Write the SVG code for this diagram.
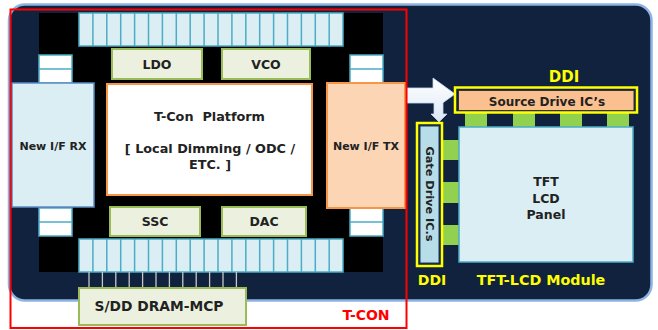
<svg xmlns="http://www.w3.org/2000/svg" width="658" height="330" viewBox="0 0 658 330">
<defs>
<style>
.t{font-family:"DejaVu Sans","Noto Sans","Liberation Sans",sans-serif;font-weight:bold;text-anchor:middle;fill:#222;}
.cell{fill:#dbeef4;stroke:#4bacc6;stroke-width:1.5;}
.grn{fill:#ebf1de;stroke:#9bbb59;stroke-width:2;}
.conn{fill:#92d050;}
.ddi{fill:none;stroke:#ffff00;stroke-width:2.5;}
.ylw{font-family:"DejaVu Sans","Noto Sans","Liberation Sans",sans-serif;font-weight:bold;text-anchor:middle;fill:#ffff00;}
.pin{stroke:#c8c8c8;stroke-width:1.3;}
</style>
<linearGradient id="arrowGrad" x1="0" y1="0" x2="0" y2="1">
<stop offset="0" stop-color="#ffffff"/>
<stop offset="1" stop-color="#dce8f6"/>
</linearGradient>
</defs>
<rect width="658" height="330" fill="#ffffff"/>
<g id="module-bg">
<rect x="9" y="4.5" width="642.5" height="296" rx="16" fill="#10223d" stroke="#8db3e2" stroke-width="2.5"/>
</g>
<g id="tcon-core">
<rect x="39" y="13" width="344" height="259" fill="#000000"/>
</g>
<g id="top-strip">
<rect class="cell" x="79" y="13" width="264" height="33"/>
<path class="cell" d="M92.9 13V46M106.8 13V46M120.7 13V46M134.6 13V46M148.5 13V46M162.4 13V46M176.3 13V46M190.2 13V46M204.1 13V46M218 13V46M231.9 13V46M245.8 13V46M259.7 13V46M273.6 13V46M287.5 13V46M301.4 13V46M315.3 13V46M329.2 13V46"/>
</g>
<g id="bottom-strip">
<rect class="cell" x="79" y="239" width="264" height="33"/>
<path class="cell" d="M92.9 239V272M106.8 239V272M120.7 239V272M134.6 239V272M148.5 239V272M162.4 239V272M176.3 239V272M190.2 239V272M204.1 239V272M218 239V272M231.9 239V272M245.8 239V272M259.7 239V272M273.6 239V272M287.5 239V272M301.4 239V272M315.3 239V272M329.2 239V272"/>
</g>
<g id="connectors">
<path class="pin" d="M89 272V288M102.4 272V288M115.8 272V288M129.2 272V288M142.6 272V288M156 272V288M169.4 272V288M182.8 272V288M196.2 272V288M209.6 272V288M223 272V288M236.4 272V288"/>
<path d="M407 88H433V78L455 94L443 102.7V114H447L439 122L431 114H434V103H407Z" fill="url(#arrowGrad)" stroke="#c6d9f0" stroke-width="0.8"/>
<rect class="conn" x="465" y="113" width="22" height="14"/>
<rect class="conn" x="513" y="113" width="22" height="14"/>
<rect class="conn" x="560" y="113" width="22" height="14"/>
<rect class="conn" x="607" y="113" width="22" height="14"/>
<rect class="conn" x="443" y="140" width="16" height="20"/>
<rect class="conn" x="443" y="182" width="16" height="21"/>
<rect class="conn" x="443" y="225" width="16" height="20"/>
</g>
<g id="pad-tl"><rect class="cell" x="39" y="55" width="33" height="28" style="fill:#fff"/><line class="cell" x1="39" y1="69" x2="72" y2="69"/></g>
<g id="pad-bl"><rect class="cell" x="39" y="208" width="33" height="28" style="fill:#fff"/><line class="cell" x1="39" y1="222" x2="72" y2="222"/></g>
<g id="pad-tr"><rect class="cell" x="350" y="55" width="33" height="28" style="fill:#fff"/><line class="cell" x1="350" y1="69" x2="383" y2="69"/></g>
<g id="pad-br"><rect class="cell" x="350" y="208" width="33" height="28" style="fill:#fff"/><line class="cell" x1="350" y1="222" x2="383" y2="222"/></g>
<g id="ldo"><rect class="grn" x="112" y="49" width="90" height="30"/><text class="t" x="157" y="68.5" font-size="12.5">LDO</text></g>
<g id="vco"><rect class="grn" x="222" y="49" width="88" height="30"/><text class="t" x="266" y="68.5" font-size="12.5">VCO</text></g>
<g id="ssc"><rect class="grn" x="110" y="207" width="90" height="29"/><text class="t" x="155" y="226" font-size="12.5">SSC</text></g>
<g id="dac"><rect class="grn" x="222" y="207" width="84" height="29"/><text class="t" x="264" y="226" font-size="12.5">DAC</text></g>
<g id="new-if-rx"><rect x="12" y="83" width="82" height="124" fill="#dbeef4" stroke="#5b8cc4" stroke-width="1.5"/><text class="t" x="53" y="150" font-size="11">New I/F RX</text></g>
<g id="tcon-platform"><rect x="107" y="84" width="205" height="111" fill="#ffffff" stroke="#f79646" stroke-width="2"/>
<text class="t" x="209.5" y="120.5" font-size="12.8" xml:space="preserve">T-Con  Platform</text>
<text class="t" x="210" y="153" font-size="12.8">[ Local Dimming / ODC /</text>
<text class="t" x="210" y="169" font-size="12.8">ETC. ]</text></g>
<g id="new-if-tx"><rect x="327" y="83" width="78" height="125" fill="#fcd5b4" stroke="#f79646" stroke-width="2"/><text class="t" x="366" y="150" font-size="11">New I/F TX</text></g>
<g id="dram"><rect class="grn" x="79" y="288" width="167" height="37"/><text class="t" x="159" y="310.5" font-size="13.8">S/DD DRAM-MCP</text></g>
<g id="tcon-frame"><rect x="10.5" y="9.5" width="396" height="318.5" fill="none" stroke="#ff0000" stroke-width="2"/><text x="366" y="320" font-size="14" font-family="DejaVu Sans, Noto Sans, Liberation Sans, sans-serif" font-weight="bold" text-anchor="middle" fill="#ff0000">T-CON</text></g>
<g id="source-drive"><rect x="458.5" y="90.5" width="175.5" height="20" fill="#fac090" stroke="#333" stroke-width="1"/><rect class="ddi" x="455" y="87.5" width="182" height="25"/><text class="t" x="547" y="105.5" font-size="12">Source Drive IC’s</text><text class="ylw" x="564" y="82" font-size="15">DDI</text></g>
<g id="gate-drive"><rect x="420" y="126" width="19" height="137" fill="#b7dee8" stroke="#1f3864" stroke-width="1"/><rect class="ddi" x="417" y="123" width="25" height="143"/><text class="t" transform="translate(426,194) rotate(90)" x="0" y="0" font-size="11.3">Gate Drive IC.s</text><text class="ylw" x="432" y="285" font-size="14">DDI</text></g>
<g id="panel"><rect x="459" y="127" width="174" height="135" fill="#dbeef4" stroke="#4bacc6" stroke-width="1.5"/><text class="t" x="546" y="186" font-size="12.5">TFT</text><text class="t" x="546" y="203" font-size="12.5">LCD</text><text class="t" x="546" y="219" font-size="12.5">Panel</text></g>
<g id="module-label"><text class="ylw" x="541" y="285" font-size="14.3">TFT-LCD Module</text></g>
</svg>
